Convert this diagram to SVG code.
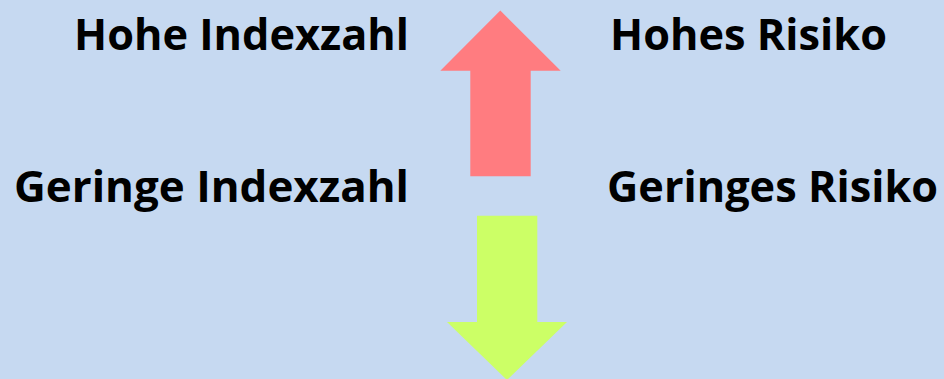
<svg xmlns="http://www.w3.org/2000/svg" width="944" height="379" viewBox="0 0 944 379">
<style>
.t{font-family:"Open Sans","Liberation Sans",sans-serif;font-weight:bold;font-size:43px;fill:#000}
</style>
<rect width="944" height="379" fill="#C6D9F1"/>
<g id="arrow-up">
<polygon points="500.3,10.5 560.7,70.7 530.7,70.7 530.7,176.3 470.3,176.3 470.3,70.7 440.3,70.7" fill="#FF7C80"/>
</g>
<g id="arrow-down">
<polygon points="477,215.7 537.3,215.7 537.3,322 567,322 507,380 447,322 477,322" fill="#CCFF66"/>
</g>
<g id="label-hohe-indexzahl"><text class="t" x="74" y="50" textLength="335" lengthAdjust="spacingAndGlyphs">Hohe Indexzahl</text></g>
<g id="label-hohes-risiko"><text class="t" x="610" y="50" textLength="277" lengthAdjust="spacingAndGlyphs">Hohes Risiko</text></g>
<g id="label-geringe-indexzahl"><text class="t" x="14" y="202" textLength="395" lengthAdjust="spacingAndGlyphs">Geringe Indexzahl</text></g>
<g id="label-geringes-risiko"><text class="t" x="607" y="202" textLength="331" lengthAdjust="spacingAndGlyphs">Geringes Risiko</text></g>
</svg>
